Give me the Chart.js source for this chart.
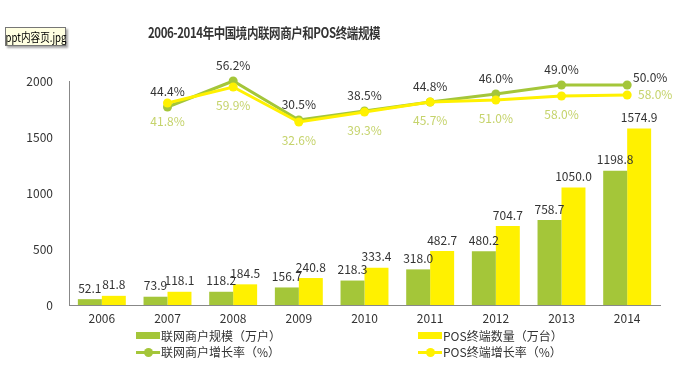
<!DOCTYPE html>
<html>
<head>
<meta charset="utf-8">
<script src="https://cdn.jsdelivr.net/npm/chart.js@4"></script>
<style>
  body { margin: 0; background: #fff; font-family: "Noto Sans CJK SC", sans-serif; }
  #wrap { position: relative; width: 676px; height: 368px; overflow: hidden; }
  #chart { position: absolute; left: 0; top: 0; }
  #title { position: absolute; left: 264px; top: 32px; transform: translate(-50%, -50%) scaleX(0.82);
           font-size: 14px; font-weight: bold; color: #333; white-space: nowrap; letter-spacing: -0.5px; }
  #tip { position: absolute; left: 5px; top: 27px; width: 59px; height: 17px; background: #ffffe1;
         border: 1px solid #767676; box-shadow: 2px 2px 2px rgba(0,0,0,0.35); }
  #tip span { position: absolute; left: 50%; top: 0; transform: translateX(-50%) scaleX(0.8);
              font-size: 12px; line-height: 17px; color: #000; white-space: nowrap; }
  .lg { position: absolute; font-size: 12px; color: #333; white-space: nowrap; height: 14px; line-height: 14px; }
  .lg span.sw { display: inline-block; position: relative; width: 24px; height: 14px; vertical-align: top; margin-right: 1px; }
</style>
</head>
<body>
<div id="wrap">
  <canvas id="chart" width="676" height="368"></canvas>
  <div id="title">2006-2014年中国境内联网商户和POS终端规模</div>
  <div id="tip"><span>ppt内容页.jpg</span></div>
  <div id="legend"></div>
</div>
<script>
const years = ['2006', '2007', '2008', '2009', '2010', '2011', '2012', '2013', '2014'];
const merchants = [52.1, 73.9, 118.2, 156.7, 218.3, 318.0, 480.2, 758.7, 1198.8];
const posTerminals = [81.8, 118.1, 184.5, 240.8, 333.4, 482.7, 704.7, 1050.0, 1574.9];
// growth rates shown as labels (%)
const merchantGrowth = [null, 44.4, 56.2, 30.5, 38.5, 44.8, 46.0, 49.0, 50.0];
const posGrowth = [null, 41.8, 59.9, 32.6, 39.3, 45.7, 51.0, 58.0, 58.0];
// where the growth lines sit on the chart's value axis
const merchantGrowthLevel = [null, 1768, 2000, 1652, 1732, 1813, 1884, 1964, 1964];
const posGrowthLevel = [null, 1804, 1946, 1634, 1723, 1813, 1830, 1866, 1875];
const yTicks = [0, 500, 1000, 1500, 2000];

const green = '#a4c639';
const yellow = '#fff100';
const font = '"Noto Sans CJK SC", sans-serif';

const valueLabels = {
  id: 'valueLabels',
  afterDatasetsDraw(chart) {
    const ctx = chart.ctx;
    ctx.save();
    ctx.font = '12px ' + font;
    ctx.textAlign = 'center';
    ctx.textBaseline = 'middle';
    chart.data.datasets.forEach((ds, i) => {
      const meta = chart.getDatasetMeta(i);
      meta.data.forEach((el, j) => {
        if (ds.type === 'bar') {
          ctx.fillStyle = '#333';
          ctx.fillText(ds.data[j].toFixed(1), el.x, el.y - 11);
        } else {
          const v = ds.rates[j];
          if (v == null) return;
          const txt = v.toFixed(1) + '%';
          const last = j === ds.data.length - 1;
          if (ds.above) {
            ctx.fillStyle = '#333';
            if (last) ctx.fillText(txt, el.x + 23, el.y - 8);
            else ctx.fillText(txt, el.x, el.y - 16);
          } else {
            ctx.fillStyle = '#c5d36b';
            if (last) ctx.fillText(txt, el.x + 28, el.y - 1);
            else ctx.fillText(txt, el.x, el.y + 18);
          }
        }
      });
    });
    ctx.restore();
  }
};

const chart = new Chart(document.getElementById('chart'), {
  data: {
    labels: years,
    datasets: [
      { type: 'line', label: 'POS终端增长率（%）', data: posGrowthLevel, rates: posGrowth, above: false,
        borderColor: yellow, backgroundColor: yellow, borderWidth: 3, pointRadius: 4.5,
        pointBackgroundColor: yellow, pointBorderWidth: 0, order: 1, clip: false },
      { type: 'line', label: '联网商户增长率（%）', data: merchantGrowthLevel, rates: merchantGrowth, above: true,
        borderColor: green, backgroundColor: green, borderWidth: 3, pointRadius: 4.5,
        pointBackgroundColor: green, pointBorderWidth: 0, order: 2, clip: false },
      { type: 'bar', label: '联网商户规模（万户）', data: merchants, backgroundColor: green,
        categoryPercentage: 0.73, barPercentage: 1, order: 3 },
      { type: 'bar', label: 'POS终端数量（万台）', data: posTerminals, backgroundColor: yellow,
        categoryPercentage: 0.73, barPercentage: 1, order: 4 }
    ]
  },
  options: {
    responsive: false,
    animation: false,
    layout: { padding: { top: 81, right: 16, left: 0, bottom: 0 } },
    plugins: { legend: { display: false }, tooltip: { enabled: false }, title: { display: false } },
    scales: {
      x: {
        grid: { display: false, drawTicks: false },
        border: { color: '#888', width: 1 },
        ticks: { color: '#333', font: { family: font, size: 12 }, padding: 6 },
        afterFit(scale) { scale.height = 63; }
      },
      y: {
        min: 0, max: 2000,
        grid: { display: false, drawTicks: false },
        border: { color: '#888', width: 1 },
        afterBuildTicks(scale) { scale.ticks = yTicks.map(v => ({ value: v })); },
        ticks: { color: '#333', font: { family: font, size: 12 }, padding: 16, callback: v => String(v) },
        afterFit(scale) { scale.width = 69; }
      }
    }
  },
  plugins: [valueLabels]
});

// legend built from the datasets: bars in the first row, lines in the second
const legend = document.getElementById('legend');
const legendSpots = [
  { idx: 2, left: 136, top: 329 }, { idx: 3, left: 418, top: 329 },
  { idx: 1, left: 136, top: 345 }, { idx: 0, left: 418, top: 345 }
];
legendSpots.forEach(s => {
  const ds = chart.data.datasets[s.idx];
  const d = document.createElement('div');
  d.className = 'lg';
  d.style.left = s.left + 'px';
  d.style.top = s.top + 'px';
  const sw = document.createElement('span');
  sw.className = 'sw';
  if (ds.type === 'bar') {
    sw.innerHTML = '<i style="position:absolute;left:0;top:3px;width:24px;height:7px;background:' + ds.backgroundColor + '"></i>';
  } else {
    sw.innerHTML = '<i style="position:absolute;left:0;top:6px;width:24px;height:3px;background:' + ds.borderColor + '"></i>' +
      '<i style="position:absolute;left:8px;top:3px;width:9px;height:9px;border-radius:50%;background:' + ds.borderColor + '"></i>';
  }
  d.appendChild(sw);
  d.appendChild(document.createTextNode(ds.label));
  legend.appendChild(d);
});
</script>
</body>
</html>
